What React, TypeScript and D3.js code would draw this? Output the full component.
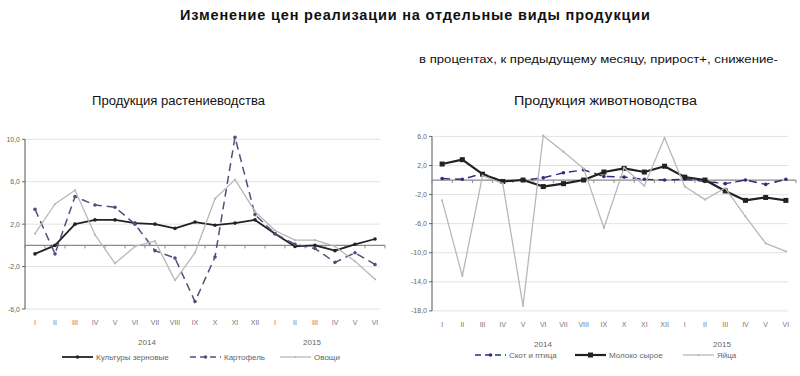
import React from "react";
import * as d3 from "d3";

const months = ["I","II","III","IV","V","VI","VII","VIII","IX","X","XI","XII","I","II","III","IV","V","VI"];
const years = ["2014", "2015"];

const leftTicks = [10, 6, 2, -2, -6];
const grain = [-0.8, 0, 2.0, 2.4, 2.4, 2.1, 2.0, 1.6, 2.2, 1.9, 2.1, 2.4, 1.1, -0.1, 0, -0.5, 0.1, 0.6];
const potato = [3.4, -0.8, 4.6, 3.8, 3.6, 2.0, -0.5, -1.2, -5.3, -1.1, 10.2, 2.9, 1.1, 0.1, -0.3, -1.6, -0.7, -1.8];
const vegetables = [1.1, 3.9, 5.2, 1.0, -1.7, -0.1, 0.4, -3.3, -0.7, 4.4, 6.2, 3.2, 1.4, 0.5, 0.5, -0.1, -1.5, -3.2];

const rightTicks = [6, 2, -2, -6, -10, -14, -18];
const livestock = [0.2, 0.1, 0.9, -0.2, 0, 0.3, 1.0, 1.4, 0.5, 0.4, 0.1, 0, 0.1, -0.2, -0.5, 0, -0.6, 0.1];
const milk = [2.2, 2.8, 0.8, -0.2, 0, -0.9, -0.5, 0, 1.1, 1.6, 1.1, 1.9, 0.4, 0, -1.5, -2.8, -2.4, -2.8];
const eggs = [-2.8, -13.2, 0.6, -0.5, -17.3, 6.1, 3.9, 1.6, -6.6, 1.7, -0.8, 5.8, -0.9, -2.7, -1.1, -5.0, -8.7, -9.8];

const fmt = (v: number) => v.toFixed(1).replace(".", ",");
const FONT = "Arial, 'Liberation Sans', sans-serif";

type Series = { name: string; values: number[]; color: string; width: number; dash?: string; marker: "dot" | "square" | "tiny"; };

function Panel(props: {
  x0: number; x1: number; yTop: number; yBot: number; domain: [number, number]; ticks: number[];
  series: Series[]; gridRight: number; yearX: number[]; legendX: number[]; legendY: number;
}) {
  const { x0, x1, yTop, yBot, domain, ticks, series, gridRight, yearX, legendX, legendY } = props;
  const band = d3.scaleBand<number>().domain(d3.range(months.length)).range([x0, x1]).padding(0);
  const cx = (i: number) => (band(i) as number) + band.bandwidth() / 2;
  const y = d3.scaleLinear().domain(domain).range([yBot, yTop]);
  const line = d3.line<number>().x((_, i) => cx(i)).y((v) => y(v));
  const zeroY = y(0);
  const marker = (s: Series, px: number, py: number, key: string | number) => {
    if (s.marker === "square") return <rect key={key} x={px - 2.5} y={py - 2.5} width={5} height={5} fill={s.color} />;
    if (s.marker === "dot") return <circle key={key} cx={px} cy={py} r={1.8} fill={s.color} />;
    return <circle key={key} cx={px} cy={py} r={1.1} fill={s.color} />;
  };
  return (
    <g>
      {ticks.map((t) => (
        <g key={t}>
          <line x1={x0} x2={gridRight} y1={y(t)} y2={y(t)} stroke="#e2e2e2" strokeWidth={1} />
          <line x1={x0 - 3} x2={x0} y1={y(t)} y2={y(t)} stroke="#666" />
          <text x={x0 - 5} y={y(t) + 2.5} fontSize={7} fill="#666" textAnchor="end" fontFamily={FONT}>{fmt(t)}</text>
        </g>
      ))}
      <line x1={x0} x2={x0} y1={y(ticks[0])} y2={y(ticks[ticks.length - 1])} stroke="#555" strokeWidth={1} />
      <line x1={x0} x2={x1} y1={zeroY} y2={zeroY} stroke="#8a8a8a" strokeWidth={1.3} />
      {d3.range(months.length + 1).map((i) => {
        const bx = x0 + i * band.bandwidth();
        return <line key={i} x1={bx} x2={bx} y1={zeroY} y2={zeroY + 3} stroke="#8a8a8a" />;
      })}
      {months.map((m, i) => (
        <text key={i} x={cx(i)} y={yBot + 16} fontSize={7} fill="#777" textAnchor="middle" fontFamily={FONT}>{m}</text>
      ))}
      {years.map((yr, i) => (
        <text key={yr} x={yearX[i]} y={yBot + 36} fontSize={8} fill="#666" textAnchor="middle" fontFamily={FONT}>{yr}</text>
      ))}
      {series.map((s) => (
        <g key={s.name}>
          <path d={line(s.values) || ""} fill="none" stroke={s.color} strokeWidth={s.width} strokeDasharray={s.dash} strokeLinejoin="round" />
          {s.values.map((v, i) => marker(s, cx(i), y(v), i))}
        </g>
      ))}
      {series.map((s, i) => (
        <g key={"lg" + s.name}>
          <line x1={legendX[i]} x2={legendX[i] + 31} y1={legendY} y2={legendY} stroke={s.color} strokeWidth={s.width} strokeDasharray={s.dash ? "6,4" : undefined} />
          {marker(s, legendX[i] + 15.5, legendY, "m")}
          <text x={legendX[i] + 34} y={legendY + 3} fontSize={8} fill="#666" fontFamily={FONT}>{s.name}</text>
        </g>
      ))}
    </g>
  );
}

export default function App() {
  const leftSeries: Series[] = [
    { name: "Культуры зерновые", values: grain, color: "#222", width: 1.8, marker: "dot" },
    { name: "Картофель", values: potato, color: "#50507a", width: 1.5, dash: "8,5", marker: "dot" },
    { name: "Овощи", values: vegetables, color: "#b8b8b8", width: 1.3, marker: "tiny" },
  ];
  const rightSeries: Series[] = [
    { name: "Скот и птица", values: livestock, color: "#2e2e80", width: 1.4, dash: "8,5", marker: "dot" },
    { name: "Молоко сырое", values: milk, color: "#222", width: 2.2, marker: "square" },
    { name: "Яйца", values: eggs, color: "#b8b8b8", width: 1.3, marker: "tiny" },
  ];
  return (
    <svg width={800} height={376} style={{ position: "absolute", left: 0, top: 0, background: "#fff" }}>
      <text x={180} y={20} fontSize={14.5} fontWeight="bold" fill="#111" fontFamily={FONT}
        textLength={470} lengthAdjust="spacing">
        Изменение цен реализации на отдельные виды продукции
      </text>
      <text x={419} y={63} fontSize={11.5} fill="#111" fontFamily={FONT} textLength={359} lengthAdjust="spacingAndGlyphs">
        в процентах, к предыдущему месяцу, прирост+, снижение-
      </text>
      <text x={92} y={105} fontSize={12.5} fill="#111" fontFamily={FONT} textLength={173} lengthAdjust="spacingAndGlyphs">Продукция растениеводства</text>
      <text x={514} y={105} fontSize={12.5} fill="#111" fontFamily={FONT} textLength={183} lengthAdjust="spacingAndGlyphs">Продукция животноводства</text>
      <Panel x0={25} x1={385} yTop={139.3} yBot={309} domain={[-6, 10]} ticks={leftTicks} series={leftSeries}
        gridRight={380} yearX={[147, 312]} legendX={[62, 190, 280]} legendY={357} />
      <Panel x0={432} x1={796} yTop={136.4} yBot={310.9} domain={[-18, 6]} ticks={rightTicks} series={rightSeries}
        gridRight={788} yearX={[543, 722]} legendX={[475, 575, 683]} legendY={355} />
    </svg>
  );
}
